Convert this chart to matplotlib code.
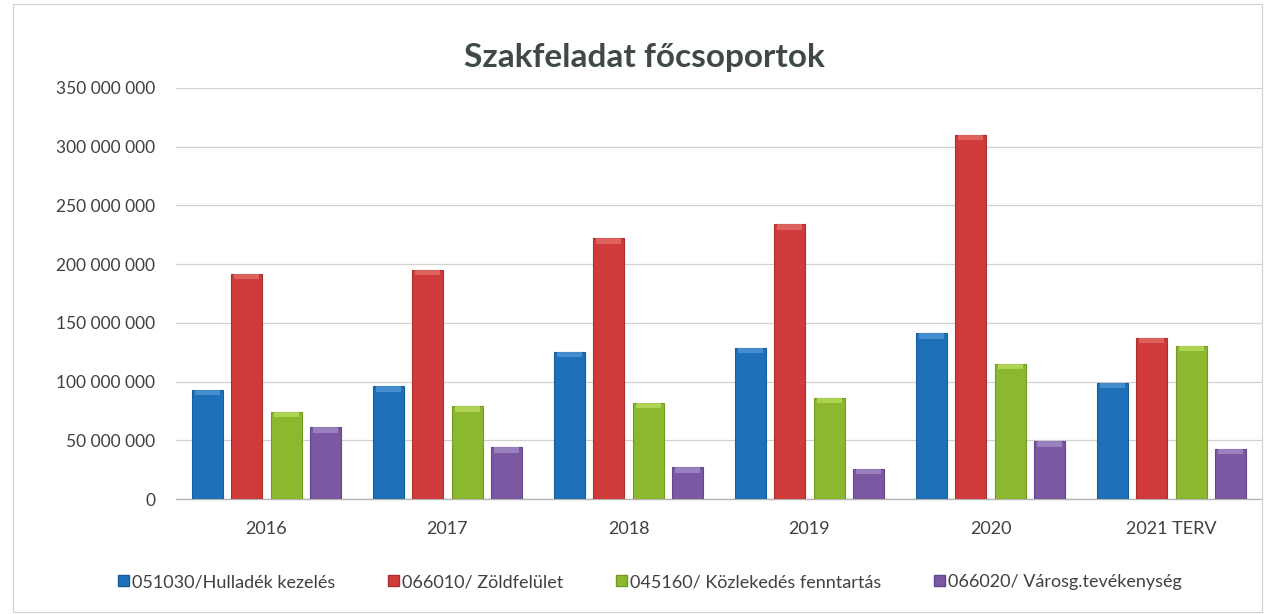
import matplotlib
matplotlib.use("Agg")
import matplotlib.pyplot as plt
import numpy as np
from matplotlib.patches import Rectangle

plt.rcParams['font.family'] = ['Lato', 'DejaVu Sans']

title = "Szakfeladat főcsoportok"
categories = ["2016", "2017", "2018", "2019", "2020", "2021 TERV"]
series_names = ["051030/Hulladék kezelés", "066010/ Zöldfelület",
                "045160/ Közlekedés fenntartás", "066020/ Városg.tevékenység"]
hulladek = [93_000_000, 96_000_000, 125_000_000, 129_000_000, 141_000_000, 99_000_000]
zoldfelulet = [191_500_000, 195_000_000, 222_000_000, 234_000_000, 310_000_000, 137_000_000]
kozlekedes = [74_000_000, 79_000_000, 82_000_000, 86_000_000, 115_000_000, 130_500_000]
varosg = [61_000_000, 44_000_000, 27_000_000, 25_500_000, 49_000_000, 43_000_000]
yticks = [0, 50_000_000, 100_000_000, 150_000_000, 200_000_000, 250_000_000, 300_000_000, 350_000_000]

series = [hulladek, zoldfelulet, kozlekedes, varosg]
colors = ["#1E70B8", "#D03A3A", "#8CB830", "#7A58A2"]
cap_colors = ["#4C93D2", "#E06A64", "#B5D85A", "#A088C2"]
edge_colors = ["#175E9E", "#AE2E2E", "#739A22", "#634690"]

fig = plt.figure(figsize=(12.64, 6.14), dpi=100)
ax = fig.add_axes([176/1264, 1 - 499/614, (1262-176)/1264, (499-88)/614])

x = np.arange(len(categories))
pitch = 0.218
width = 0.171
cap = 4_500_000
for j, (vals, c, cc, ec) in enumerate(zip(series, colors, cap_colors, edge_colors)):
    pos = x + (j - 1.5) * pitch
    vals = np.array(vals, dtype=float)
    ax.bar(pos, vals, width=width, color=c, edgecolor=ec, linewidth=0.8, zorder=3)
    ax.bar(pos, np.full_like(vals, cap), bottom=vals - cap, width=width * 0.82,
           color=cc, linewidth=0, zorder=4, alpha=0.85)

ax.set_xlim(-0.5, len(categories) - 0.5)
ax.set_ylim(0, 350_000_000)
ax.set_yticks(yticks)
ax.set_yticklabels([f"{v:,}".replace(",", " ") for v in yticks])
ax.set_xticks(x)
ax.set_xticklabels(categories)
ax.tick_params(axis='both', length=0, labelsize=13, labelcolor="#404040")
ax.tick_params(axis='y', pad=15, labelsize=12.5)
ax.tick_params(axis='x', pad=16)
ax.yaxis.grid(True, color="#d2d2d2", linewidth=0.9, zorder=0)
ax.set_axisbelow(True)
for s in ["top", "right", "left"]:
    ax.spines[s].set_visible(False)
ax.spines["bottom"].set_color("#b5b5b5")
ax.spines["bottom"].set_linewidth(1.0)

fig.text(644/1264, 1 - 58/614, title, ha="center", va="center",
         fontsize=24, fontweight="bold", color="#3f4a48")

handles = [Rectangle((0, 0), 1, 1, facecolor=c, edgecolor=ec) for c, ec in zip(colors, edge_colors)]
fig.legend(handles, series_names, loc="center", bbox_to_anchor=(650/1264, 1 - 582/614),
           ncol=4, frameon=False, fontsize=13, labelcolor="#404040",
           handlelength=0.6, handleheight=0.6, handletextpad=0.2, columnspacing=2.9)

# outer chart frame
frame = Rectangle((13/1264, 2/614), (1262-13)/1264, 608/614, transform=fig.transFigure,
                  fill=False, edgecolor="#d0d0d0", linewidth=0.8)
fig.add_artist(frame)

fig.savefig("out.png", dpi=100, facecolor="white")
